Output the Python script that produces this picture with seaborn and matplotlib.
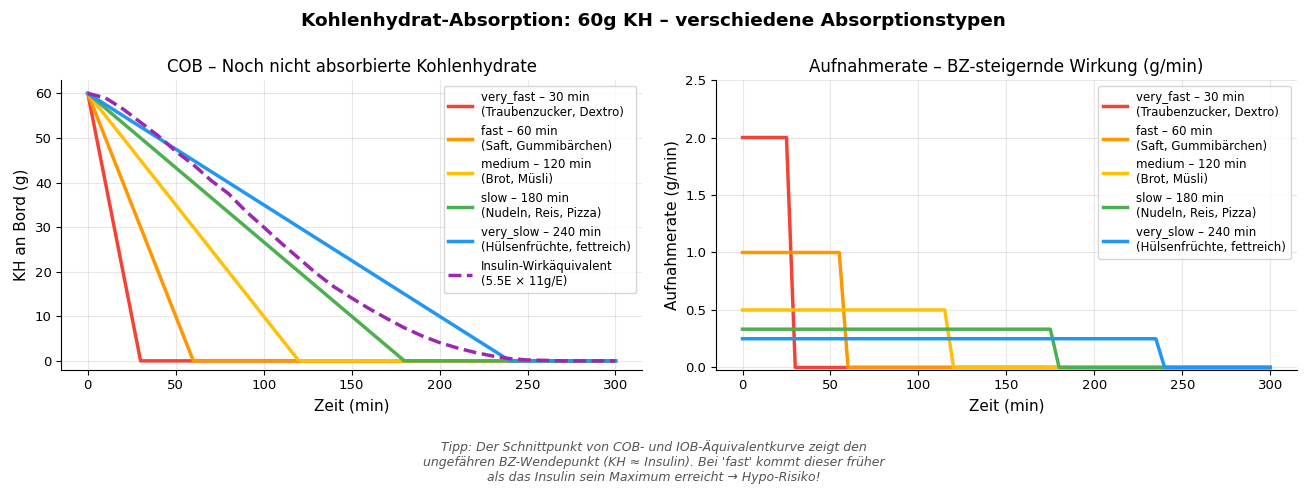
import numpy as np
import pandas as pd
import matplotlib
matplotlib.use("Agg")
import matplotlib.pyplot as plt
import seaborn as sns

# ---------------- data ----------------
types = ["very_fast", "fast", "medium", "slow", "very_slow"]
durations = [30, 60, 120, 180, 240]
foods = ["Traubenzucker, Dextro", "Saft, Gummibärchen", "Brot, Müsli",
         "Nudeln, Reis, Pizza", "Hülsenfrüchte, fettreich"]
rates = [2.0, 1.0, 0.5, 0.333, 0.25]
colors = ["#F44336", "#FF9800", "#FFC107", "#4CAF50", "#2196F3"]
carbs = 60
t_end = 300

ins_t = [0, 10, 20, 30, 40, 50, 60, 70, 80, 90, 100, 110, 120, 130, 140, 150,
         160, 170, 180, 190, 200, 210, 220, 230, 240, 250, 260, 270, 280, 290, 300]
ins_cob = [60, 59, 56.5, 53.5, 50.5, 47, 44, 40.5, 37.5, 33.5, 30, 26.4, 23, 19.6,
           16.6, 14.1, 11.7, 9.5, 7.4, 5.6, 4.1, 2.9, 1.9, 1.1, 0.5, 0.2, 0.1, 0, 0, 0, 0]

# ---------------- tables ----------------
rows_cob = []
rows_rate = []
for name, d, r in zip(types, durations, rates):
    for t, v in zip([0, d, t_end], [carbs, 0, 0]):
        rows_cob.append((name, t, v))
    for t, v in zip([0, d - 5, d, t_end], [r, r, 0, 0]):
        rows_rate.append((name, t, v))
df_cob = pd.DataFrame(rows_cob, columns=["typ", "t", "cob"])
df_rate = pd.DataFrame(rows_rate, columns=["typ", "t", "rate"])
df_ins = pd.DataFrame({"t": ins_t, "cob": ins_cob})

labels = [f"{n} – {d} min\n({f})" for n, d, f in zip(types, durations, foods)]
pal = dict(zip(types, colors))

# ---------------- plot ----------------
plt.rcParams["font.family"] = "DejaVu Sans"
fig, (ax1, ax2) = plt.subplots(1, 2, figsize=(13.07, 4.97), dpi=100)
fig.subplots_adjust(left=0.047, right=0.992, top=0.839, bottom=0.256, wspace=0.128)

sns.lineplot(data=df_cob, x="t", y="cob", hue="typ", palette=pal, linewidth=2.5,
             ax=ax1, legend=False, sort=False, estimator=None)
sns.lineplot(data=df_ins, x="t", y="cob", color="#9C27B0", linewidth=2.5,
             linestyle="--", ax=ax1, estimator=None)
ax1.set_title("COB – Noch nicht absorbierte Kohlenhydrate", fontsize=12)
ax1.set_xlabel("Zeit (min)", fontsize=11)
ax1.set_ylabel("KH an Bord (g)", fontsize=11)
ax1.set_xticks([0, 50, 100, 150, 200, 250, 300])
ax1.set_ylim(-2, 63)
ax1.grid(alpha=0.3)
h1 = ax1.get_lines()
ax1.legend(h1, labels + ["Insulin-Wirkäquivalent\n(5.5E × 11g/E)"],
           loc="upper right", fontsize=8.5)

sns.lineplot(data=df_rate, x="t", y="rate", hue="typ", palette=pal, linewidth=2.5,
             ax=ax2, legend=False, sort=False, estimator=None)
ax2.set_title("Aufnahmerate – BZ-steigernde Wirkung (g/min)", fontsize=12)
ax2.set_xlabel("Zeit (min)", fontsize=11)
ax2.set_ylabel("Aufnahmerate (g/min)", fontsize=11)
ax2.set_ylim(-0.02, 2.5)
ax2.set_xticks([0, 50, 100, 150, 200, 250, 300])
ax2.grid(alpha=0.3)
ax2.legend(ax2.get_lines(), labels, loc="upper right", fontsize=8.5)

for ax in (ax1, ax2):
    ax.tick_params(labelsize=9.5)
    sns.despine(ax=ax)

fig.suptitle("Kohlenhydrat-Absorption: 60g KH – verschiedene Absorptionstypen",
             fontsize=13.3, fontweight="bold", y=0.975)
fig.text(0.5, 0.07,
         "Tipp: Der Schnittpunkt von COB- und IOB-Äquivalentkurve zeigt den\n"
         "ungefähren BZ-Wendepunkt (KH ≈ Insulin). Bei 'fast' kommt dieser früher\n"
         "als das Insulin sein Maximum erreicht → Hypo-Risiko!",
         ha="center", va="center", fontsize=9, style="italic", color="#555555")

plt.savefig("out.png", dpi=100)
